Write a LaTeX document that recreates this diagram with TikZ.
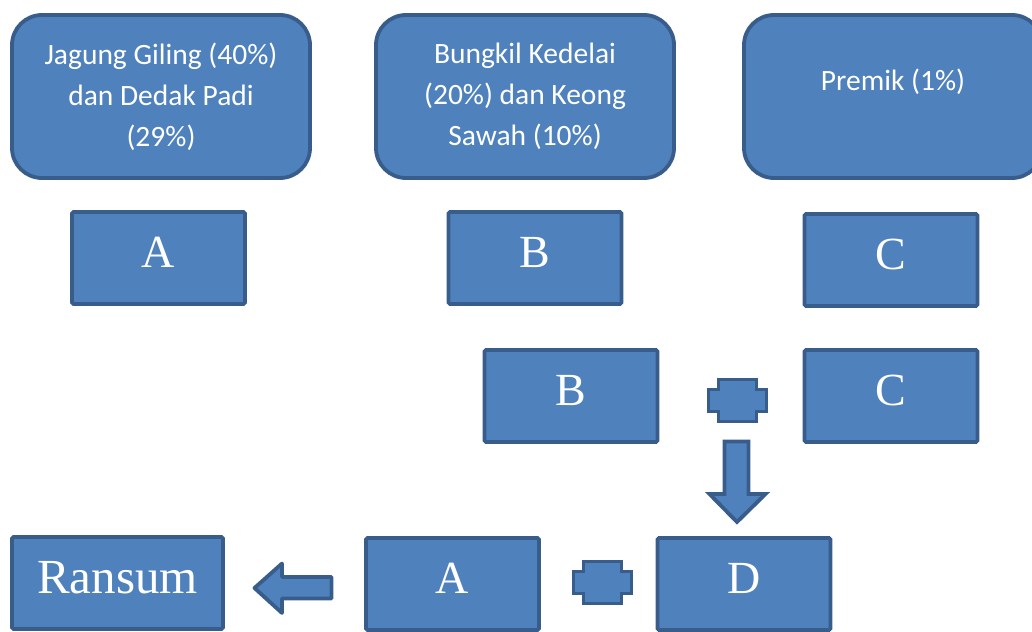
\documentclass[tikz,border=0pt]{standalone}
\usepackage{fontspec}
\setmainfont{Liberation Serif}
\newfontfamily\calibri{Carlito}
\usetikzlibrary{positioning}
\definecolor{boxfill}{HTML}{4F81BD}
\definecolor{boxline}{HTML}{385D8A}

\begin{document}
\begin{tikzpicture}[x=1pt,y=-1pt,
    bahan/.style={draw=boxline, fill=boxfill, line width=3.8pt, rounded corners=30pt,
      minimum width=298pt, minimum height=163pt, inner sep=0pt, text=white,
      align=center, font=\calibri\fontsize{29.5}{41}\selectfont},
    huruf/.style={draw=boxline, fill=boxfill, line width=3.8pt, rounded corners=1.5pt,
      minimum width=173pt, minimum height=92pt, inner sep=0pt, text=white,
      text depth=12pt, font=\fontsize{46}{50}\selectfont},
    bentuk/.style={draw=boxline, fill=boxfill, line width=3.8pt}]
    \useasboundingbox (0,0) rectangle (1032,631);
    \clip (0,0) rectangle (1032,631);

    % bahan baku
    \node[bahan] (jagung) at (161,96.5) {Jagung Giling (40\%)\\dan Dedak Padi\\(29\%)};
    \node[bahan] (bungkil) at (525,96.5) {Bungkil Kedelai\\(20\%) dan Keong\\Sawah (10\%)};
    \node[bahan] (premik) at (893,96.5) {Premik (1\%)\\[-8pt]\mbox{}};

    % kode bahan
    \node[huruf] (a1) at (158.5,258) {A};
    \node[huruf] (b1) at (535,258) {B};
    \node[huruf] (c1) at (891,260) {C};

    % pencampuran B + C
    \node[huruf] (b2) at (571,396) {B};
    \node[huruf] (c2) at (891,396) {C};

    % pencampuran A + D
    \node[huruf, minimum width=211pt, font=\fontsize{49}{54}\selectfont] (ransum) at (117.5,583) {Ransum};
    \node[huruf] (a2) at (452.5,584) {A};
    \node[huruf] (d) at (744,584) {D};

    % tanda tambah
    \foreach \cx/\cy in {737.5/400.5, 602.5/582.5} {
      \draw[bentuk, line join=miter, shift={(\cx,\cy)}]
        (-19,-21) -- (19,-21) -- (19,-11) -- (29,-11) -- (29,11) -- (19,11)
        -- (19,21) -- (-19,21) -- (-19,11) -- (-29,11) -- (-29,-11) -- (-19,-11) -- cycle;
    }

    % panah
    \draw[bentuk, line join=miter]
      (724.5,441.5) -- (748.5,441.5) -- (748.5,494) -- (765.5,494)
      -- (737,522) -- (709.5,494) -- (724.5,494) -- cycle;
    \draw[bentuk, line join=round]
      (254.5,588) -- (282,563.5) -- (282,577) -- (331.5,577)
      -- (331.5,598.5) -- (282,598.5) -- (282,613) -- cycle;
\end{tikzpicture}
\end{document}
